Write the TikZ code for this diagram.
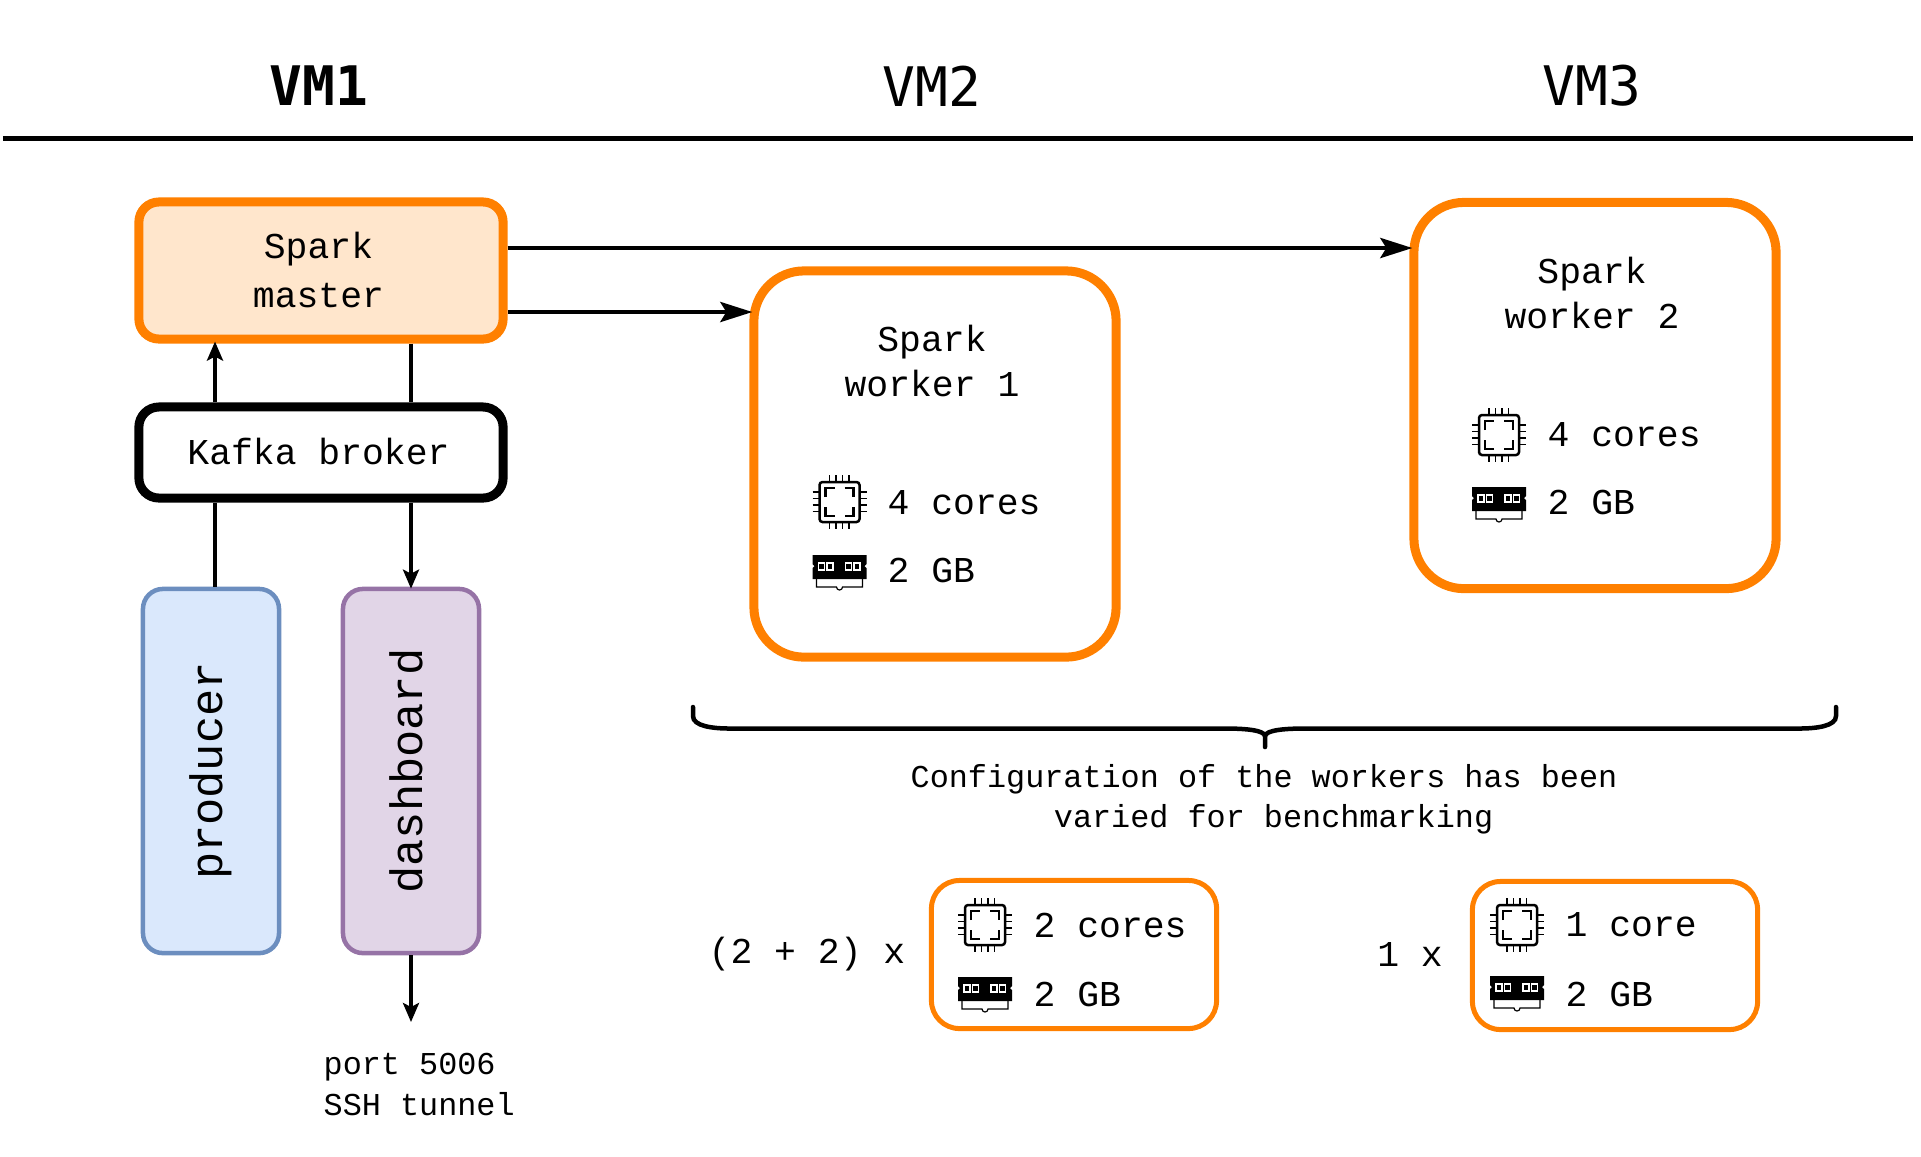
\documentclass[tikz,border=0pt]{standalone}
\usepackage{fontspec}
\setmainfont{Liberation Mono}
\newfontfamily\headfont{DejaVu Sans Mono}
\usetikzlibrary{arrows.meta}
\definecolor{sparkorange}{HTML}{FF8000}
\definecolor{masterfill}{HTML}{FFE6CC}
\definecolor{prodfill}{HTML}{DAE8FC}
\definecolor{proddraw}{HTML}{6C8EBF}
\definecolor{dashfill}{HTML}{E1D5E7}
\definecolor{dashdraw}{HTML}{9673A6}
\tikzset{
  labeltxt/.style={font=\fontsize{10.35}{12.8}\selectfont,inner sep=0pt,align=center},
  smalltxt/.style={font=\fontsize{9.05}{11.5}\selectfont,inner sep=0pt},
  headtxt/.style={font=\fontsize{15.5}{18}\selectfont\headfont,inner sep=0pt},
  sidetxt/.style={font=\fontsize{12.9}{15}\selectfont,inner sep=0pt,rotate=90,
    minimum width=3.64cm,minimum height=1.36cm,rounded corners=0.2cm,line width=0.045cm},
  specbox/.style={draw=sparkorange,line width=0.09cm,rounded corners=0.2cm,
    minimum width=3.64cm},
  workerbox/.style={draw=sparkorange,line width=0.09cm,rounded corners=0.5cm,
    minimum width=3.62cm,minimum height=3.86cm},
  configbox/.style={draw=sparkorange,line width=0.05cm,rounded corners=0.28cm,
    minimum width=2.85cm,minimum height=1.48cm},
  arrowline/.style={line width=0.045cm},
  smallarrow/.style={arrowline,shorten >=-0.02cm,-{Stealth[length=0.19cm,width=0.16cm,inset=0.04cm]}},
  bigarrow/.style={arrowline,shorten >=-0.03cm,-{Stealth[length=0.32cm,width=0.2cm,inset=0.06cm]}},
  pics/cpuchip/.style={code={
    \draw[line width=0.025cm,rounded corners=0.03cm] (-20,-20) rectangle (20,20);
    \draw[line width=0.025cm] (-14,-5) -- (-14,-14) -- (-5,-14) (5,-14) -- (14,-14) -- (14,-5)
      (14,5) -- (14,14) -- (5,14) (-5,14) -- (-14,14) -- (-14,5);
    \foreach \p in {-10,-3.5,3,9.5} {
      \draw[line width=0.018cm] (\p,-27) -- (\p,-20) (\p,20) -- (\p,27)
        (-27,\p) -- (-20,\p) (20,\p) -- (27,\p);
    }
  }},
  pics/ramstick/.style={code={
    \fill (-27,-16) -- (27,-16) -- (27,-7) -- (25,-5) -- (27,-3) -- (27,8) -- (-27,8)
      -- (-27,-3) -- (-25,-5) -- (-27,-7) -- cycle;
    \draw[line width=0.012cm] (-23,8) -- (-23,16) -- (-3,16) arc[start angle=180,end angle=0,radius=3]
      -- (23,16) -- (23,8);
    \foreach \p in {-21,-12.5,6,14.5} {
      \draw[white,line width=0.014cm] (\p,-8) rectangle ++(6,7);
    }
  }}
}
\begin{document}
\begin{tikzpicture}[x=0.01cm,y=-0.01cm]
  \useasboundingbox (0,0) rectangle (1921,1156);
  % header
  \node[headtxt] (vmone) at (319,86) {\textbf{VM1}};
  \node[headtxt] (vmtwo) at (932,86) {VM2};
  \node[headtxt] (vmthree) at (1592,86) {VM3};
  \coordinate (ruleL) at (3,138); \coordinate (ruleR) at (1913,138);
  \draw[line width=0.05cm] (ruleL) -- (ruleR);
  % VM1
  \node[specbox,fill=masterfill,minimum height=1.37cm] (master) at (321,270.5) {};
  \node[labeltxt] (mastertxt) at (318.5,270) {Spark\\[1pt]master};
  \node[specbox,draw=black,minimum height=0.91cm] (kafka) at (321,452.5) {};
  \node[labeltxt] (kafkatxt) at (318.5,451) {Kafka broker};
  \node[sidetxt,draw=proddraw,fill=prodfill] (producer) at (211,771) {producer};
  \node[sidetxt,draw=dashdraw,fill=dashfill] (dashboard) at (411,771) {\vphantom{p}dashboard};
  \coordinate (tap) at (215,0);
  \coordinate (tunnel) at (411,1020);
  \draw[arrowline] (tap |- producer.east) -- (tap |- kafka.south);
  \draw[smallarrow] (tap |- kafka.north) -- (tap |- master.south);
  \draw[arrowline] (dashboard |- master.south) -- (dashboard |- kafka.north);
  \draw[smallarrow] (dashboard |- kafka.south) -- (dashboard.east);
  \draw[smallarrow] (dashboard.west) -- (tunnel);
  \node[smalltxt,align=left,anchor=west] (port) at (323,1084.5) {port 5006\\SSH tunnel};
  % workers
  \node[workerbox] (workerA) at (935,464) {};
  \node[workerbox] (workerB) at (1595,395.5) {};
  \node[labeltxt] (titleA) at (932,361) {Spark\\worker 1};
  \node[labeltxt] (titleB) at (1592,293) {Spark\\worker 2};
  \draw[bigarrow] (master.east |- 0,312) -- (workerA.west |- 0,312);
  \draw[bigarrow] (master.east |- 0,248) -- (workerB.west |- 0,248);
  \pic at (839.5,502) {cpuchip}; \node[labeltxt,anchor=west] (coresA) at (887,503) {4 cores};
  \pic at (839.5,571) {ramstick}; \node[labeltxt,anchor=west] (memA) at (887,570) {2 GB};
  \pic at (1499,435) {cpuchip}; \node[labeltxt,anchor=west] (coresB) at (1547,435) {4 cores};
  \pic at (1499,503) {ramstick}; \node[labeltxt,anchor=west] (memB) at (1547,502) {2 GB};
  % brace and note
  \coordinate (braceL) at (693,707); \coordinate (braceR) at (1836,707); \coordinate (braceT) at (1265,747);
  \draw[line width=0.045cm,line cap=round] (braceL) -- (693,716) .. controls (693,726) and (712,728.5) .. (730,728.5)
    -- (1225,728.5) .. controls (1245,728.5) and (1264,730) .. (1265,736) -- (braceT);
  \draw[line width=0.045cm,line cap=round] (braceR) -- (1836,716) .. controls (1836,726) and (1817,728.5) .. (1799,728.5)
    -- (1305,728.5) .. controls (1285,728.5) and (1266,730) .. (1265,736);
  \node[smalltxt,align=center] (note) at (1264,799.5) {Configuration of the workers has been\\\phantom{x}varied for benchmarking};
  % bench configs
  \node[labeltxt] (timesA) at (807,954) {(2 + 2) x};
  \node[labeltxt] (timesB) at (1410,954) {1 x};
  \node[configbox] (boxA) at (1074,954.5) {};
  \node[configbox] (boxB) at (1615,955.5) {};
  \pic at (985,925) {cpuchip}; \node[labeltxt,anchor=west] (coresC) at (1033,925) {2 cores};
  \pic at (985,993) {ramstick}; \node[labeltxt,anchor=west] (memC) at (1033,994) {2 GB};
  \pic at (1517,925) {cpuchip}; \node[labeltxt,anchor=west] (coresD) at (1565,925) {1 core};
  \pic at (1517,992) {ramstick}; \node[labeltxt,anchor=west] (memD) at (1565,994) {2 GB};
\end{tikzpicture}
\end{document}
